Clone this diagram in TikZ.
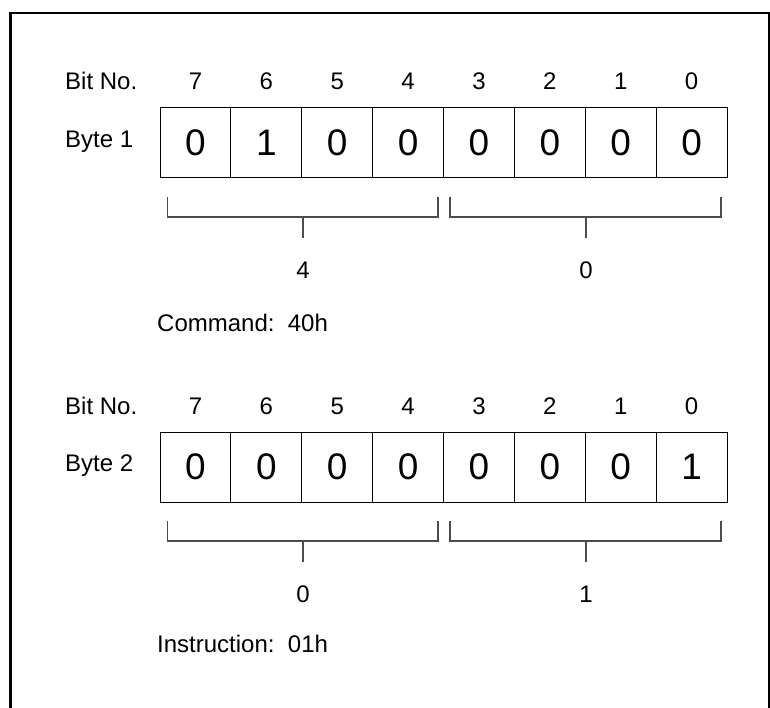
\documentclass[tikz,border=0pt]{standalone}
\usepackage{fontspec}
\setmainfont{Liberation Sans}
\begin{document}
\begin{tikzpicture}[x=1pt,y=-1pt,
  lbl/.style={font=\fontsize{24}{28}\selectfont, inner sep=0pt},
  cell/.style={draw=black, line width=1pt, minimum width=70.875pt, minimum height=70pt, inner sep=0pt, font=\fontsize{37}{40}\selectfont},
  brk/.style={draw=black!70, line width=1.1pt},
  frame/.style={line width=2.6pt}]
\useasboundingbox (0,0) rectangle (770,708);
\draw[frame] (10.5,708) -- (10.5,13) -- (769.5,13) -- (769.5,708);

% ---- Byte blocks ----
\foreach \blk/\off/\bits/\lo/\hi/\txt/\tb in {1/0/{0,1,0,0,0,0,0,0}/0/4/{Command:\ \ 40h}/331.5, 2/324/{0,0,0,0,0,0,0,1}/1/0/{Instruction:\ \ 01h}/652.5}{
  \node[lbl, anchor=base west] (bitno\blk) at (65,90+\off) {Bit No.};
  \node[lbl, anchor=base west] (byte\blk) at (65,147.7+\off) {Byte \blk};
  \foreach \v [count=\i from 0] in \bits {
    \pgfmathtruncatemacro{\bn}{7-\i}
    \node[cell] (c\blk-\bn) at ({160+70.875*(\i+0.5)},{143+\off}) {\v};
    \node[lbl, anchor=base] (n\blk-\bn) at ({160+70.875*(\i+0.5)},{90+\off}) {\bn};
  }
  % brackets
  \coordinate (hl\blk a) at (167.5,197+\off);
  \coordinate (hl\blk b) at (167.5,217+\off);
  \coordinate (hl\blk c) at (438,217+\off);
  \coordinate (hl\blk d) at (438,197+\off);
  \coordinate (hl\blk t) at (303,217+\off);
  \coordinate (hl\blk e) at (303,238+\off);
  \coordinate (lo\blk a) at (450,197+\off);
  \coordinate (lo\blk b) at (450,217+\off);
  \coordinate (lo\blk c) at (721,217+\off);
  \coordinate (lo\blk d) at (721,197+\off);
  \coordinate (lo\blk t) at (586,217+\off);
  \coordinate (lo\blk e) at (586,238+\off);
  \draw[brk] (hl\blk a) -- (hl\blk b) -- (hl\blk c) -- (hl\blk d);
  \draw[brk] (hl\blk t) -- (hl\blk e);
  \draw[brk] (lo\blk a) -- (lo\blk b) -- (lo\blk c) -- (lo\blk d);
  \draw[brk] (lo\blk t) -- (lo\blk e);
  \node[lbl, anchor=base] (hv\blk) at (303,278.3+\off) {\hi};
  \node[lbl, anchor=base] (lv\blk) at (586,278.3+\off) {\lo};
  \node[lbl, anchor=base west] (res\blk) at (157,\tb) {\txt};
}
\end{tikzpicture}
\end{document}
